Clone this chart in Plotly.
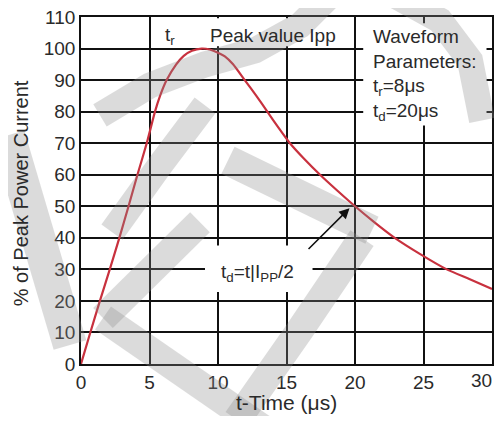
import plotly.graph_objects as go

# ---- data ----
t_us = [0, 0.68, 1.38, 2.1, 2.8, 3.47, 4.12, 4.8, 5.4, 5.77, 6.25, 6.95, 7.5, 8.1, 8.8,
        9.4, 10.0, 10.5, 11.1, 11.95, 12.8, 13.6, 14.4, 15.25, 16.3, 17.45, 18.7, 20.0,
        21.4, 22.9, 24.7, 26.7, 28.3, 30.0]
pct_ipp = [0, 10, 20, 30, 40, 50, 60, 70, 80, 85, 90, 95, 97.7, 99.3, 100,
           99.7, 98.7, 97.5, 95, 90, 85, 80, 75, 70, 65, 60, 55, 50,
           45, 40, 35, 30, 27, 23.8]
x_ticks = [0, 5, 10, 15, 20, 25, 30]
x_labels = ["0", "5", "10", "15", "20", "25", "30"]
y_ticks = [0, 10, 20, 30, 40, 50, 60, 70, 80, 90, 100, 110]

OFF = 8                               # page body margin of the browser
W, H = 502 - 2 * OFF, 424 - 2 * OFF   # figure fits the window without scrolling
WL, WR, WT, WB = 81, 492, 16.5, 364   # plot area in window pixels
ML, MT = WL - OFF, WT - OFF
PW, PH = WR - WL, WB - WT
MR, MB = W - ML - PW, H - MT - PH

FONT = "Liberation Sans, Arial, sans-serif"
TXT = "#2a2a2a"
FS = 19

fig = go.Figure()
fig.add_trace(go.Scatter(x=t_us, y=pct_ipp, mode="lines",
                         line=dict(color="#c8313e", width=2.2, shape="spline", smoothing=0.5),
                         hoverinfo="skip", showlegend=False))

shapes = []
# white boxes behind labels (hide grid lines, stay under the curve)
for x0, x1, y0, y1 in [(9.05, 19.3, 100.7, 109.6), (20.6, 29.6, 75.6, 108.0), (9.05, 16.9, 22.8, 37.6)]:
    shapes.append(dict(type="rect", xref="x", yref="y", x0=x0, x1=x1, y0=y0, y1=y1,
                       fillcolor="white", line=dict(width=0), layer="between"))

def px_x(px):
    return (px - WL) / PW

def px_y(py):
    return (WB - py) / PH

# light grey watermark strokes (decoration, window pixel positions)
def px2paper(pts):
    return " L ".join(f"{px_x(px):.4f},{px_y(py):.4f}" for px, py in pts)

strokes = [
    ([(8, 135), (70, 345)], 34),
    ([(103, 318), (265, 430)], 28),
    ([(103, 318), (200, 222)], 28),
    ([(112, 232), (160, 165), (205, 105)], 26),
    ([(100, 115), (150, 85), (205, 64), (255, 50), (300, 25), (330, -5)], 26),
    ([(395, -5), (440, 20), (470, 60), (482, 120)], 26),
    ([(228, 160), (300, 195), (372, 230)], 30),
    ([(237, 420), (300, 330), (362, 238)], 28),
]
for pts, w in strokes:
    shapes.append(dict(type="path", xref="paper", yref="paper",
                       path="M " + px2paper(pts), line=dict(color="#8c8c8c", width=w),
                       opacity=0.3, layer="above"))

annotations = [
    dict(x=6.5, y=104, xref="x", yref="y", text="t<sub>r</sub>", showarrow=False,
         font=dict(family=FONT, size=FS, color=TXT)),
    dict(x=14.0, y=104, xref="x", yref="y", text="Peak value Ipp", showarrow=False,
         font=dict(family=FONT, size=FS, color=TXT)),
    dict(x=21.2, y=91.5, xref="x", yref="y", xanchor="left", align="left",
         text="Waveform<br>Parameters:<br>t<sub>r</sub>=8μs<br>t<sub>d</sub>=20μs",
         showarrow=False, font=dict(family=FONT, size=FS, color=TXT)),
    dict(x=12.9, y=28.8, xref="x", yref="y", text="t<sub>d</sub>=t|I<sub>PP</sub>/2",
         showarrow=False, font=dict(family=FONT, size=FS, color=TXT)),
    dict(x=19.6, y=49.4, xref="x", yref="y", ax=16.5, ay=36.0, axref="x", ayref="y",
         text="", showarrow=True, arrowhead=2, arrowsize=1.3, arrowwidth=1.6,
         arrowcolor="#111"),
    # last x tick label, kept inside the window's right edge
    dict(x=px_x(494), y=px_y(381), xref="paper", yref="paper", text=x_labels[-1],
         xanchor="right", yanchor="middle", showarrow=False,
         font=dict(family=FONT, size=FS, color=TXT)),
    # axis titles
    dict(x=px_x(286), y=px_y(403), xref="paper", yref="paper", text="t-Time (μs)",
         xanchor="center", yanchor="middle",
         showarrow=False, font=dict(family=FONT, size=21, color=TXT)),
    dict(x=px_x(21), y=px_y(193), xref="paper", yref="paper", text="% of Peak Power Current",
         xanchor="center", yanchor="middle",
         textangle=-90, showarrow=False, font=dict(family=FONT, size=20, color=TXT)),
]

fig.update_layout(
    width=W, height=H, margin=dict(l=ML, r=MR, t=MT, b=MB),
    paper_bgcolor="white", plot_bgcolor="white",
    font=dict(family=FONT, color=TXT, size=FS),
    shapes=shapes, annotations=annotations, showlegend=False,
    xaxis=dict(range=[0, 30], tickvals=x_ticks, ticktext=x_labels[:-1] + [""],
               showgrid=True, gridcolor="#111", gridwidth=1.6, automargin=False,
               ticklabeloverflow="allow",
               showline=True, linecolor="#111", linewidth=1.6, mirror=True,
               zeroline=False, ticks="", tickfont=dict(size=FS, color=TXT)),
    yaxis=dict(range=[0, 110], tickvals=y_ticks, ticktext=[str(v) for v in y_ticks],
               showgrid=True, gridcolor="#111", gridwidth=1.6, automargin=False,
               ticklabeloverflow="allow",
               showline=True, linecolor="#111", linewidth=1.6, mirror=True,
               zeroline=False, ticks="", tickfont=dict(size=FS, color=TXT)),
)

fig.write_html("out.html")
